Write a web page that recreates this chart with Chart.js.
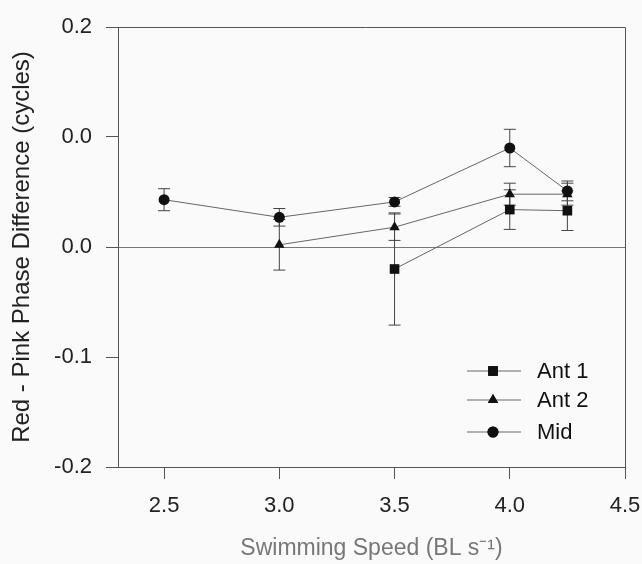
<!DOCTYPE html>
<html>
<head>
<meta charset="utf-8">
<script src="https://cdn.jsdelivr.net/npm/chart.js@4/dist/chart.umd.min.js"></script>
<style>
  html, body { margin: 0; padding: 0; background: #fafafb; }
  #wrap { width: 642px; height: 564px; }
</style>
</head>
<body>
<div id="wrap"><canvas id="phase-chart" width="642" height="564"></canvas></div>
<script>
// Data
const seriesNames = ['Ant 1', 'Ant 2', 'Mid'];
const ant1Speed = [3.5, 4.0, 4.25];
const ant1Diff = [-0.020, 0.034, 0.033];
const ant1Err = [0.051, 0.018, 0.018];
const ant2Speed = [3.0, 3.5, 4.0, 4.25];
const ant2Diff = [0.002, 0.018, 0.048, 0.048];
const ant2Err = [0.023, 0.012, 0.010, 0.010];
const midSpeed = [2.5, 3.0, 3.5, 4.0, 4.25];
const midDiff = [0.043, 0.027, 0.041, 0.090, 0.051];
const midErr = [0.010, 0.008, 0.004, 0.017, 0.009];
const xTicks = [2.5, 3.0, 3.5, 4.0, 4.5];
const yTicks = [-0.2, -0.1, 0, 0.1, 0.2];
const yTickLabels = ['-0.2', '-0.1', '0.0', '0.0', '0.2'];

const fontFamily = '"Liberation Sans", Arial, sans-serif';

function toPoints(xs, ys) {
    return xs.map((x, i) => ({ x: x, y: ys[i] }));
}

const errors = [ant1Err, ant2Err, midErr];

// Error bars drawn under the markers
const errorBars = {
    id: 'errorBars',
    beforeDatasetsDraw(chart) {
        const ctx = chart.ctx;
        const xs = chart.scales.x, ys = chart.scales.y;
        ctx.save();
        ctx.strokeStyle = '#444';
        ctx.lineWidth = 1;
        chart.data.datasets.forEach((ds, d) => {
            ds.data.forEach((p, i) => {
                const e = errors[d][i];
                const px = xs.getPixelForValue(p.x);
                const top = ys.getPixelForValue(p.y + e);
                const bot = ys.getPixelForValue(p.y - e);
                ctx.beginPath();
                ctx.moveTo(px, top); ctx.lineTo(px, bot);
                ctx.moveTo(px - 6, top); ctx.lineTo(px + 6, top);
                ctx.moveTo(px - 6, bot); ctx.lineTo(px + 6, bot);
                ctx.stroke();
            });
        });
        ctx.restore();
    }
};

// Frame on top/right and legend inside the plot
const frameAndLegend = {
    id: 'frameAndLegend',
    afterDraw(chart) {
        const ctx = chart.ctx;
        const a = chart.chartArea;
        ctx.save();
        ctx.strokeStyle = '#555';
        ctx.lineWidth = 1;
        ctx.beginPath();
        ctx.moveTo(a.left - 12, a.top + 0.5); ctx.lineTo(a.right + 0.5, a.top + 0.5);
        ctx.lineTo(a.right + 0.5, a.bottom);
        ctx.stroke();

        const rows = [a.bottom - 96, a.bottom - 67, a.bottom - 35];
        chart.data.datasets.forEach((ds, d) => {
            const y = rows[d];
            ctx.strokeStyle = '#666';
            ctx.beginPath();
            ctx.moveTo(a.right - 158, y); ctx.lineTo(a.right - 104, y);
            ctx.stroke();
            Chart.helpers.drawPoint(ctx, {
                pointStyle: ds.pointStyle,
                radius: ds.pointRadius,
                rotation: 0,
                borderWidth: 0
            }, a.right - 132, y);
            ctx.fillStyle = '#111';
            ctx.fill();
            ctx.font = '22px ' + fontFamily;
            ctx.textBaseline = 'middle';
            ctx.fillText(ds.label, a.right - 88, y + 1);
        });
        ctx.restore();
    }
};

function makeSet(i, xs, ys, style, radius) {
    return {
        label: seriesNames[i],
        data: toPoints(xs, ys),
        showLine: true,
        borderColor: '#666',
        borderWidth: 1,
        pointStyle: style,
        pointRadius: radius,
        pointBackgroundColor: '#111',
        pointBorderColor: '#111',
        pointBorderWidth: 0
    };
}

const ctx = document.getElementById('phase-chart').getContext('2d');
new Chart(ctx, {
    type: 'scatter',
    data: {
        datasets: [
            makeSet(0, ant1Speed, ant1Diff, 'rect', 6.8),
            makeSet(1, ant2Speed, ant2Diff, 'triangle', 6),
            makeSet(2, midSpeed, midDiff, 'circle', 5.5)
        ]
    },
    options: {
        responsive: false,
        animation: false,
        layout: { padding: { top: 27, right: 17, left: 0, bottom: 0 } },
        plugins: { legend: { display: false }, tooltip: { enabled: false } },
        scales: {
            x: {
                type: 'linear',
                min: 2.3,
                max: 4.5,
                afterBuildTicks(scale) { scale.ticks = xTicks.map(v => ({ value: v })); },
                afterFit(scale) {
                    scale.height = 97;
                    scale.paddingLeft = 0;
                    scale.paddingRight = 0;
                },
                border: { color: '#555' },
                grid: { color: 'transparent', tickColor: '#555', tickLength: 12 },
                ticks: {
                    color: '#222',
                    padding: 14,
                    font: { family: fontFamily, size: 22 },
                    callback: v => v.toFixed(1)
                },
                title: {
                    display: true,
                    text: 'Swimming Speed (BL s\u207B\u00B9)',
                    color: '#777',
                    padding: { top: 0, bottom: 2 },
                    font: { family: fontFamily, size: 23 }
                }
            },
            y: {
                type: 'linear',
                min: -0.2,
                max: 0.2,
                afterBuildTicks(scale) { scale.ticks = yTicks.map(v => ({ value: v })); },
                afterFit(scale) {
                    scale.width = 118;
                    scale.paddingTop = 0;
                    scale.paddingBottom = 0;
                },
                border: { color: '#555' },
                grid: {
                    color: c => (c.tick && c.tick.value === 0 ? '#777' : 'transparent'),
                    tickColor: '#555',
                    tickLength: 12
                },
                ticks: {
                    color: '#222',
                    padding: 14,
                    font: { family: fontFamily, size: 22 },
                    callback: (v, i) => yTickLabels[i]
                },
                title: {
                    display: true,
                    text: 'Red - Pink Phase Difference (cycles)',
                    color: '#222',
                    padding: { top: 8, bottom: 0 },
                    font: { family: fontFamily, size: 24 }
                }
            }
        }
    },
    plugins: [errorBars, frameAndLegend]
});
</script>
</body>
</html>
